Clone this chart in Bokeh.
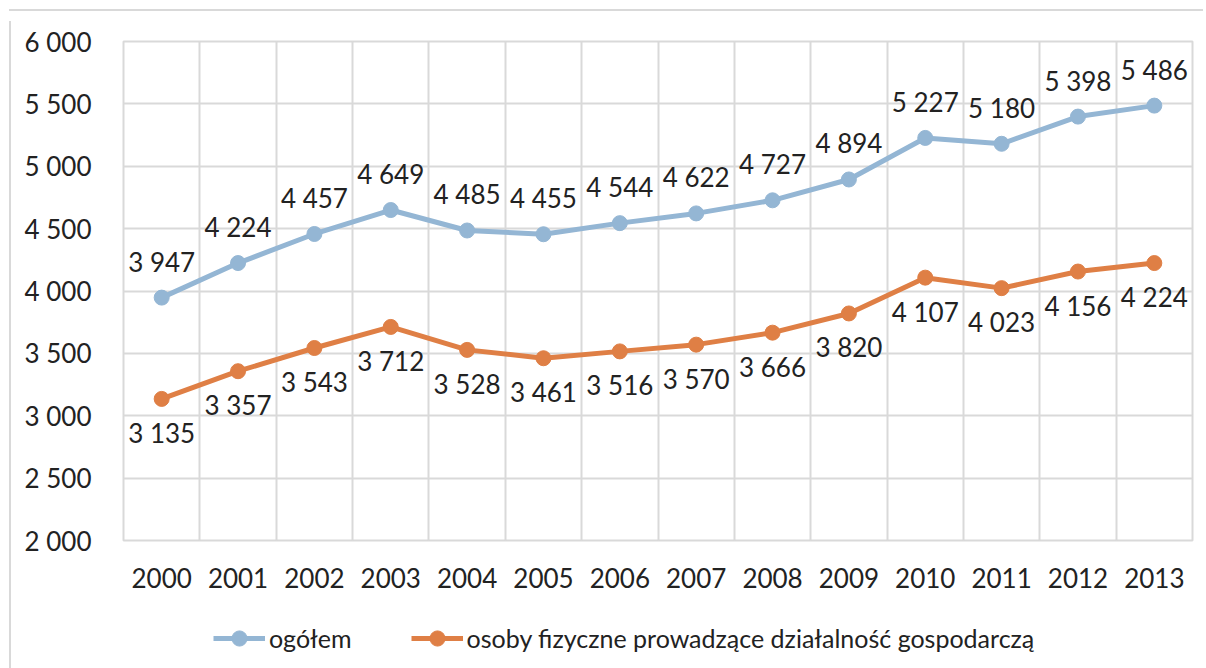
from bokeh.plotting import figure
from bokeh.models import (FixedTicker, Legend, LegendItem, ColumnDataSource, Range1d,
                          Div, Spacer, Row, Column)
from bokeh.core.properties import value
from bokeh.embed import file_html
from bokeh.resources import INLINE

years = ["2000", "2001", "2002", "2003", "2004", "2005", "2006",
         "2007", "2008", "2009", "2010", "2011", "2012", "2013"]
ogolem = [3947, 4224, 4457, 4649, 4485, 4455, 4544, 4622, 4727, 4894, 5227, 5180, 5398, 5486]
osoby = [3135, 3357, 3543, 3712, 3528, 3461, 3516, 3570, 3666, 3820, 4107, 4023, 4156, 4224]
y_ticks = [2000, 2500, 3000, 3500, 4000, 4500, 5000, 5500, 6000]
series_names = ["ogółem", "osoby fizyczne prowadzące działalność gospodarczą"]

BLUE = "#94B6D4"
ORANGE = "#DF7F45"
GRID = "#d9d9d9"
TXT = "#222222"
FONT = "Lato"
FS = "26px"


def fmt(v):
    return f"{v:,}".replace(",", " ")


xs = [i + 0.5 for i in range(len(years))]

p = figure(width=1192, height=588, output_backend="svg", toolbar_location=None,
           x_range=Range1d(0, len(years)), y_range=Range1d(y_ticks[0], y_ticks[-1]),
           min_border_left=107, min_border_right=16, min_border_top=25, min_border_bottom=64)

p.outline_line_color = GRID
p.outline_line_width = 2
p.background_fill_color = "white"
p.border_fill_color = "white"

p.xgrid.ticker = FixedTicker(ticks=list(range(len(years) + 1)))
p.ygrid.ticker = FixedTicker(ticks=y_ticks)
for g in (p.xgrid, p.ygrid):
    g.grid_line_color = GRID
    g.grid_line_width = 2

p.xaxis.ticker = FixedTicker(ticks=xs)
p.xaxis.major_label_overrides = {x: y for x, y in zip(xs, years)}
p.yaxis.ticker = FixedTicker(ticks=y_ticks)
p.yaxis.major_label_overrides = {t: fmt(t) for t in y_ticks}
for ax in (p.xaxis, p.yaxis):
    ax.axis_line_color = None
    ax.major_tick_line_color = None
    ax.minor_tick_line_color = None
    ax.major_label_text_font = FONT
    ax.major_label_text_font_size = FS
    ax.major_label_text_color = TXT
p.yaxis.major_label_standoff = 26
p.xaxis.major_label_standoff = 21

src1 = ColumnDataSource(dict(x=xs, y=ogolem, lbl=[fmt(v) for v in ogolem]))
src2 = ColumnDataSource(dict(x=xs, y=osoby, lbl=[fmt(v) for v in osoby]))

p.line("x", "y", source=src1, line_color=BLUE, line_width=5)
p.scatter("x", "y", source=src1, size=15, fill_color=BLUE, line_color=BLUE)
p.line("x", "y", source=src2, line_color=ORANGE, line_width=5)
p.scatter("x", "y", source=src2, size=15, fill_color=ORANGE, line_color=ORANGE)

p.text("x", "y", text="lbl", source=src1, text_align="center", text_baseline="middle",
       y_offset=-36, text_font=value(FONT), text_font_size=FS, text_color=TXT)
p.text("x", "y", text="lbl", source=src2, text_align="center", text_baseline="middle",
       y_offset=34, text_font=value(FONT), text_font_size=FS, text_color=TXT)

# legend strip (series drawn out of view; only the legend is visible)
p2 = figure(width=1192, height=58, output_backend="svg", toolbar_location=None,
            x_axis_type=None, y_axis_type=None,
            x_range=Range1d(-3, -2), y_range=Range1d(0, 1),
            min_border_left=0, min_border_right=0, min_border_top=0, min_border_bottom=0)
p2.outline_line_color = None
ll1 = p2.line("x", "y", source=src1, line_color=BLUE, line_width=5)
lm1 = p2.scatter("x", "y", source=src1, size=15, fill_color=BLUE, line_color=BLUE)
ll2 = p2.line("x", "y", source=src2, line_color=ORANGE, line_width=5)
lm2 = p2.scatter("x", "y", source=src2, size=15, fill_color=ORANGE, line_color=ORANGE)
legend = Legend(items=[LegendItem(label=series_names[0], renderers=[ll1, lm1]),
                       LegendItem(label=series_names[1], renderers=[ll2, lm2])],
                orientation="horizontal", location=(90, 5),
                label_text_font=FONT, label_text_font_size="25px", label_text_color=TXT,
                glyph_width=52, glyph_height=38, spacing=59, padding=0, margin=0,
                border_line_color=None, background_fill_alpha=0, label_standoff=4)
p2.add_layout(legend, "center")

top_line = Div(width=1194, height=2, styles={"background-color": GRID})
left_line = Div(width=2, height=654, styles={"background-color": GRID})
inner = Column(children=[top_line, Row(children=[left_line, Column(children=[p, p2])])])
layout = Column(children=[Spacer(height=4), Row(children=[Spacer(width=4), inner])])

open("out.html", "w").write(file_html(layout, INLINE))
